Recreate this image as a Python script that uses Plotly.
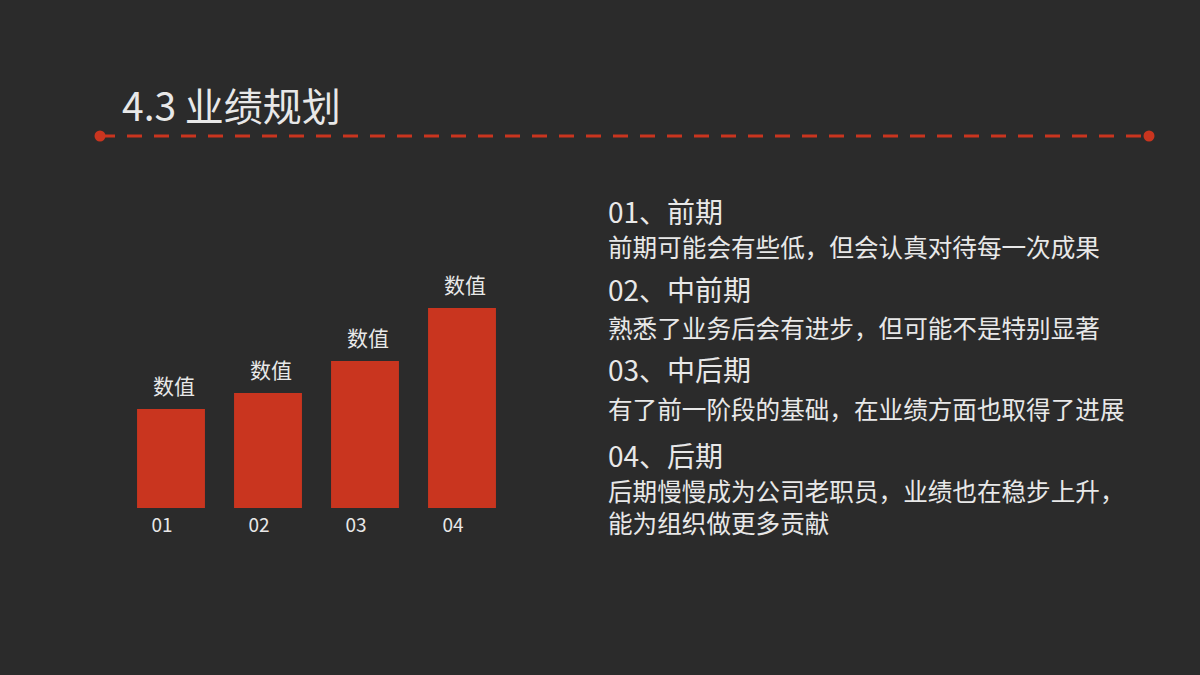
import plotly.graph_objects as go

W, H = 1200, 675
BG = "#2b2b2b"
RED = "#c9351f"
TXT = "#e8e8e8"
FONT = "Noto Sans CJK SC"

categories = ["01", "02", "03", "04"]
values = [49.5, 57.5, 73.5, 100]
value_labels = ["数值", "数值", "数值", "数值"]

title_text = "4.3 业绩规划"
headings = ["01、前期", "02、中前期", "03、中后期", "04、后期"]
bodies = [
    "前期可能会有些低，但会认真对待每一次成果",
    "熟悉了业务后会有进步，但可能不是特别显著",
    "有了前一阶段的基础，在业绩方面也取得了进展",
    "后期慢慢成为公司老职员，业绩也在稳步上升，<br>能为组织做更多贡献",
]

def px(x):
    return x / W

def py(y):
    return 1 - y / H

fig = go.Figure()
fig.add_trace(go.Bar(
    x=categories, y=values, marker=dict(color=RED, line=dict(width=0)),
    hoverinfo="skip", showlegend=False,
))

annotations = []
for i, (v, lab) in enumerate(zip(values, value_labels)):
    annotations.append(dict(
        x=i, y=v, xref="x", yref="y", text=lab, showarrow=False,
        xanchor="center", yanchor="bottom", yshift=7, xshift=3,
        font=dict(family=FONT, size=21, color=TXT),
    ))

annotations.append(dict(
    x=px(120), y=py(104), xref="paper", yref="paper", text=title_text,
    showarrow=False, xanchor="left", yanchor="middle",
    font=dict(family=FONT, size=39, color=TXT),
))

head_y = [211, 289, 369, 455]
body_top = [226, 307, 388, 470]
for h, hy, b, by in zip(headings, head_y, bodies, body_top):
    annotations.append(dict(
        x=px(606), y=py(hy), xref="paper", yref="paper", text=h,
        showarrow=False, xanchor="left", yanchor="middle",
        font=dict(family=FONT, size=28, color=TXT),
    ))
    annotations.append(dict(
        x=px(606), y=py(by), xref="paper", yref="paper", text=b,
        showarrow=False, xanchor="left", yanchor="top", align="left",
        font=dict(family=FONT, size=24.6, color=TXT),
    ))

shapes = [
    dict(type="line", xref="paper", yref="paper", x0=px(100), x1=px(1149),
         y0=py(136), y1=py(136), line=dict(color=RED, width=3, dash="15px,12px")),
]
for cx in (100, 1149):
    r = 5.5
    shapes.append(dict(type="circle", xref="paper", yref="paper",
                       x0=px(cx - r), x1=px(cx + r), y0=py(136 + r), y1=py(136 - r),
                       fillcolor=RED, line=dict(width=0)))

fig.update_layout(
    width=W, height=H, paper_bgcolor=BG, plot_bgcolor=BG,
    margin=dict(l=0, r=0, t=0, b=0),
    bargap=0.3,
    xaxis=dict(type="category", domain=[px(122.5), px(510.5)], range=[-0.5, 3.5],
               showgrid=False, zeroline=False, showline=False, ticks="",
               tickfont=dict(family=FONT, size=19, color=TXT),
               ticklabelshift=-9, ticklabelstandoff=4, fixedrange=True),
    yaxis=dict(domain=[py(508), py(248)], range=[0, 130], visible=False,
               fixedrange=True),
    annotations=annotations, shapes=shapes, showlegend=False,
)

fig.write_html(
    "out.html",
    config={"displayModeBar": False},
    post_script="document.body.style.margin='0';document.body.style.background='%s';" % BG,
)
